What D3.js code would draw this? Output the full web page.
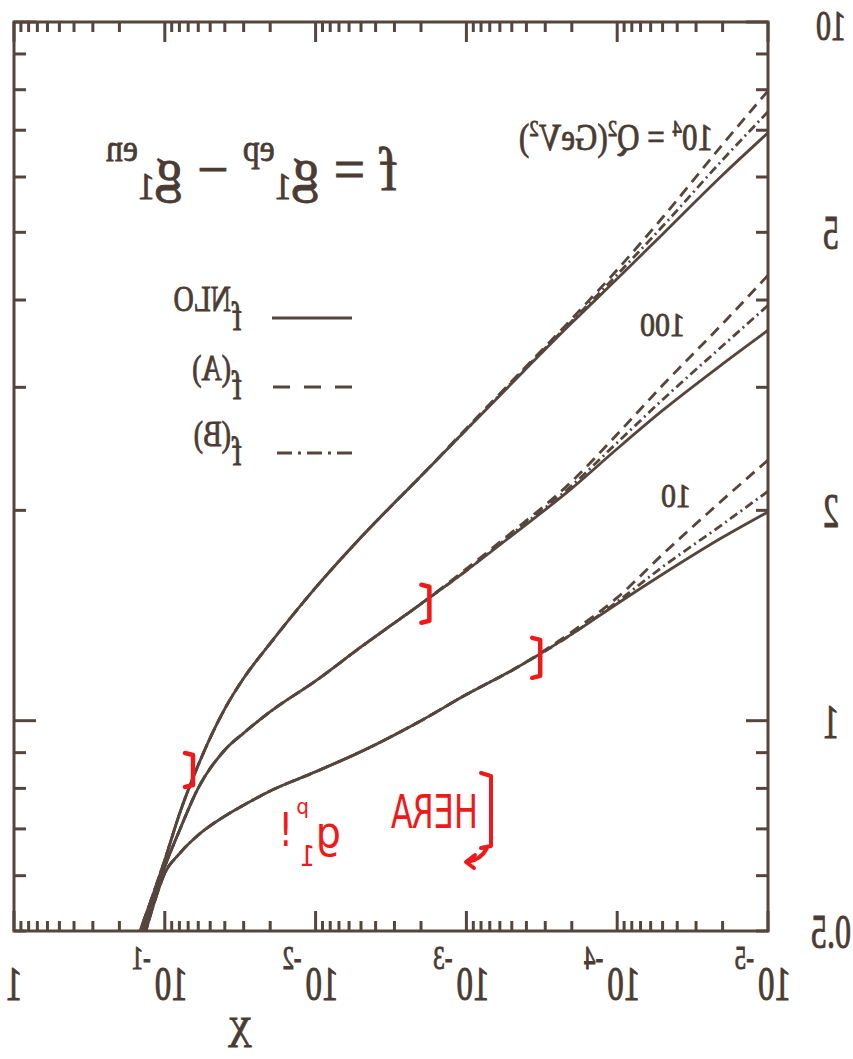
<!DOCTYPE html>
<meta charset="utf-8">
<script src="https://d3js.org/d3.v7.min.js"></script>
<style>
  body { margin: 0; background: #fff; }
  svg { display: block; background: #fff; }
  .serif { font-family: "Liberation Serif", "DejaVu Serif", serif; fill: #4a3b33; stroke: #4a3b33; stroke-width: 0.7px; }
  .hand { font-family: "DejaVu Sans", sans-serif; fill: #ee1a1a; }
</style>
<div id="chart"></div>
<script>
var width = 853, height = 1059

// Bjorken x grid shared by every curve
var xGrid = [0.15, 0.12, 0.1, 0.08, 0.06, 0.04, 0.03, 0.02, 0.01, 0.005, 0.002, 0.001, 5e-4, 2e-4, 1e-4, 5e-5, 2e-5, 1e-5]

// Q^2 = 10 GeV^2
var q10NLO = [0.455, 0.541, 0.605, 0.645, 0.686, 0.730, 0.757, 0.793, 0.845, 0.903, 1.00, 1.09, 1.18, 1.33, 1.47, 1.62, 1.83, 1.99]
var q10A   = [0.455, 0.541, 0.605, 0.645, 0.686, 0.730, 0.757, 0.793, 0.845, 0.903, 1.00, 1.09, 1.18, 1.34, 1.50, 1.73, 2.07, 2.36]
var q10B   = [0.455, 0.541, 0.605, 0.645, 0.686, 0.730, 0.757, 0.793, 0.845, 0.903, 1.00, 1.09, 1.18, 1.33, 1.48, 1.66, 1.91, 2.13]
// Q^2 = 100 GeV^2
var q100NLO = [0.478, 0.550, 0.618, 0.696, 0.801, 0.908, 0.960, 1.03, 1.14, 1.275, 1.47, 1.64, 1.84, 2.15, 2.45, 2.78, 3.24, 3.62]
var q100A   = [0.478, 0.550, 0.618, 0.696, 0.801, 0.908, 0.960, 1.03, 1.14, 1.275, 1.47, 1.65, 1.86, 2.20, 2.57, 3.02, 3.70, 4.34]
var q100B   = [0.478, 0.550, 0.618, 0.696, 0.801, 0.908, 0.960, 1.03, 1.14, 1.275, 1.47, 1.64, 1.85, 2.17, 2.50, 2.88, 3.44, 3.93]
// Q^2 = 10^4 GeV^2
var q1e4NLO = [0.492, 0.563, 0.632, 0.735, 0.864, 1.04, 1.15, 1.29, 1.55, 1.83, 2.24, 2.61, 3.04, 3.71, 4.29, 4.97, 6.04, 6.94]
var q1e4A   = [0.492, 0.563, 0.632, 0.735, 0.864, 1.04, 1.15, 1.29, 1.55, 1.83, 2.24, 2.62, 3.06, 3.76, 4.42, 5.25, 6.68, 7.97]
var q1e4B   = [0.492, 0.563, 0.632, 0.735, 0.864, 1.04, 1.15, 1.29, 1.55, 1.83, 2.24, 2.61, 3.05, 3.73, 4.35, 5.10, 6.35, 7.44]

// axis labels
var xLabelExps = [-5, -4, -3, -2, -1]
var yLabels = [0.5, 1, 2, 5, 10]

// red hand-written marks (HERA range) on the curves
var heraMarks = [{x: 0.065, y: 0.85, h: 34}, {x: 0.00176, y: 1.47, h: 38}, {x: 3.24e-4, y: 1.23, h: 40}]

var ink = "#56453d"

var svg = d3.select("#chart").append("svg")
  .attr("width", width)
  .attr("height", height)

// the scanned figure is mirrored left-right, so draw it normally and flip the whole group
var plot = svg.append("g")
  .attr("transform", "translate(" + width + ",0) scale(-1,1)")

var x = d3.scaleLog().domain([1e-5, 1]).range([85, 839])
var y = d3.scaleLog().domain([0.5, 10]).range([931, 22])

// helper: text stretched like the scan (taller than wide)
function stretched(parent, u, v, size, sy, cls) {
  return parent.append("g")
    .attr("transform", "translate(" + u + "," + v + ") scale(1," + sy + ")")
    .append("text")
    .attr("class", cls || "serif")
    .attr("font-size", size)
}

plot.append("clipPath").attr("id", "clip")
  .append("rect")
  .attr("x", x.range()[0]).attr("y", y.range()[1])
  .attr("width", x.range()[1] - x.range()[0])
  .attr("height", y.range()[0] - y.range()[1])

// ticks
var xt = x.ticks()
var yt = y.ticks()
function isDecade(v) { return Math.abs(Math.log10(v) - Math.round(Math.log10(v))) < 1e-9 }

var tg = plot.append("g").attr("stroke", ink).attr("stroke-width", 3)
tg.selectAll(".xb").data(xt).enter().append("line")
  .attr("x1", function(d){ return x(d) }).attr("x2", function(d){ return x(d) })
  .attr("y1", y(0.5)).attr("y2", function(d){ return y(0.5) - (isDecade(d) ? 20 : 10) })
tg.selectAll(".xt").data(xt).enter().append("line")
  .attr("x1", function(d){ return x(d) }).attr("x2", function(d){ return x(d) })
  .attr("y1", y(10)).attr("y2", function(d){ return y(10) + (isDecade(d) ? 20 : 10) })
tg.selectAll(".yl").data(yt).enter().append("line")
  .attr("y1", function(d){ return y(d) }).attr("y2", function(d){ return y(d) })
  .attr("x1", x(1e-5)).attr("x2", function(d){ return x(1e-5) + (isDecade(d) ? 22 : 12) })
tg.selectAll(".yr").data(yt).enter().append("line")
  .attr("y1", function(d){ return y(d) }).attr("y2", function(d){ return y(d) })
  .attr("x1", x(1)).attr("x2", function(d){ return x(1) - (isDecade(d) ? 22 : 12) })

// frame
plot.append("rect")
  .attr("x", x(1e-5)).attr("y", y(10))
  .attr("width", x(1) - x(1e-5)).attr("height", y(0.5) - y(10))
  .attr("fill", "none").attr("stroke", ink).attr("stroke-width", 3)

// curves
var line = d3.line()
  .x(function(d){ return x(d[0]) })
  .y(function(d){ return y(d[1]) })
  .curve(d3.curveMonotoneX)

var dashes = { nlo: null, A: "11,7", B: "9,4,2,4" }
var legendDashes = { nlo: null, A: "17,14", B: "15,6,3,6" }
var series = [
  {v: q10A, s: "A"}, {v: q10B, s: "B"}, {v: q10NLO, s: "nlo"},
  {v: q100A, s: "A"}, {v: q100B, s: "B"}, {v: q100NLO, s: "nlo"},
  {v: q1e4A, s: "A"}, {v: q1e4B, s: "B"}, {v: q1e4NLO, s: "nlo"}
]

plot.append("g").attr("clip-path", "url(#clip)")
  .selectAll("path").data(series).enter().append("path")
  .attr("d", function(d){
    var pts = xGrid.map(function(xv, i){ return [xv, d.v[i]] })
    pts.sort(function(a, b){ return a[0] - b[0] })
    return line(pts)
  })
  .attr("fill", "none")
  .attr("stroke", ink)
  .attr("stroke-width", 2.8)
  .attr("stroke-dasharray", function(d){ return dashes[d.s] })

// y tick labels
yLabels.forEach(function(v){
  var t = stretched(plot, 22, y(v) + 17, v === 10 ? 30 : 32, v === 10 ? 1.4 : 1.5)
    .attr("text-anchor", "middle")
    .text(v)
  if (v === 10) t.attr("y", 1)
})

// x tick labels
stretched(plot, x(1), 1000, 33, 1.5).attr("text-anchor", "middle").text("1")
xLabelExps.forEach(function(e){
  var t = stretched(plot, x(Math.pow(10, e)) - 23, 1000, 33, 1.5)
  t.append("tspan").text("10")
  t.append("tspan").attr("dx", 4).attr("dy", -21).attr("font-size", 23).text("-" + (-e))
})
stretched(plot, 613, 1047, 34, 1.3).attr("text-anchor", "middle").text("X")

// title formula
var ft = stretched(plot, 455, 190, 56, 1.1)
ft.append("tspan").text("f = g")
ft.append("tspan").attr("dy", 8).attr("font-size", 34).text("1")
ft.append("tspan").attr("dy", -34).attr("font-size", 34).text("ep")
ft.append("tspan").attr("dy", 26).text(" \u2212 g")
ft.append("tspan").attr("dy", 8).attr("font-size", 34).text("1")
ft.append("tspan").attr("dy", -34).attr("font-size", 34).text("en")

// Q^2 labels
var qt = stretched(plot, 140, 150, 31, 1.2)
qt.append("tspan").text("10")
qt.append("tspan").attr("dy", -12).attr("font-size", 19).text("4")
qt.append("tspan").attr("dy", 12).text(" = Q")
qt.append("tspan").attr("dy", -12).attr("font-size", 19).text("2")
qt.append("tspan").attr("dy", 12).text("(GeV")
qt.append("tspan").attr("dy", -12).attr("font-size", 19).text("2")
qt.append("tspan").attr("dy", 12).text(")")
stretched(plot, 168, 336, 30, 1.15).text("100")
stretched(plot, 162, 507, 30, 1.15).text("10")

// legend
var legendRows = [{y: 318, s: "nlo", sup: "NLO"}, {y: 387, s: "A", sup: "(A)"}, {y: 453, s: "B", sup: "(B)"}]
legendRows.forEach(function(r){
  plot.append("line")
    .attr("x1", 501).attr("x2", 581).attr("y1", r.y).attr("y2", r.y)
    .attr("stroke", ink).attr("stroke-width", 2.8)
    .attr("stroke-dasharray", legendDashes[r.s])
  var lt = stretched(plot, 611, r.y + 12, 30, 1.3)
  lt.append("tspan").text("f")
  lt.append("tspan").attr("dx", 1).attr("dy", -15).attr("font-size", 28).text(r.sup)
})

// red annotations
var red = "#ee1a1a"
heraMarks.forEach(function(m){
  var u = x(m.x), v = y(m.y)
  plot.append("path")
    .attr("d", "M" + (u + 8) + "," + (v - m.h / 2) + " L" + u + "," + (v - m.h / 2 + 2) +
      " L" + u + "," + (v + m.h / 2 - 2) + " L" + (u + 8) + "," + (v + m.h / 2))
    .attr("fill", "none").attr("stroke", red).attr("stroke-width", 4.5)
    .attr("stroke-linecap", "round").attr("stroke-linejoin", "round")
})
plot.append("path")
  .attr("d", "M372,773 L362,776 L362,846 L372,848 M366,848 Q372,860 386,862 M378,855 L387,862 L379,868")
  .attr("fill", "none").attr("stroke", red).attr("stroke-width", 4)
  .attr("stroke-linecap", "round").attr("stroke-linejoin", "round")
stretched(plot, 375, 828, 32, 1.45, "hand").text("HERA")
stretched(plot, 512, 848, 40, 1.1, "hand").text("g")
stretched(plot, 544, 814, 20, 1.1, "hand").text("p")
stretched(plot, 538, 866, 24, 1.2, "hand").text("1")
stretched(plot, 560, 846, 36, 1.3, "hand").text("!")
</script>
